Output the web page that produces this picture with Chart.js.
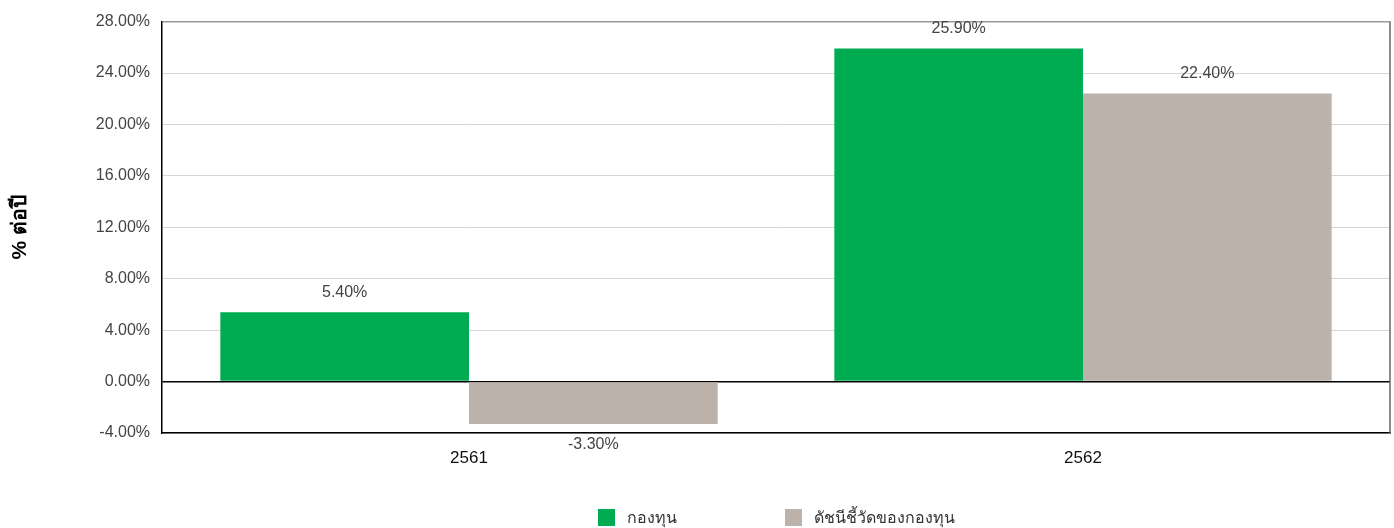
<!DOCTYPE html>
<html>
<head>
<meta charset="utf-8">
<script src="https://cdn.jsdelivr.net/npm/chart.js@4.4.1/dist/chart.umd.min.js"></script>
<style>
  html, body { margin: 0; padding: 0; background: #fff; }
  #wrap { position: relative; width: 1394px; height: 528px; }
  #legend {
    position: absolute; left: 162px; top: 505px; width: 1228px;
    display: flex; justify-content: center; gap: 108px;
    font-family: "Liberation Sans", "Noto Sans", sans-serif; font-size: 16px; color: #333;
  }
  .item { display: flex; align-items: center; }
  .box { width: 17px; height: 17px; margin-right: 12px; }
</style>
</head>
<body>
<div id="wrap">
  <canvas id="chart" width="1394" height="528"></canvas>
  <div id="legend"></div>
</div>
<script>
// ข้อมูลผลตอบแทน (% ต่อปี)
const years = ["2561", "2562"];
const fundValues = [5.4, 25.9];
const benchmarkValues = [-3.3, 22.4];
const seriesNames = ["กองทุน", "ดัชนีชี้วัดของกองทุน"];
const seriesColors = ["#00ac52", "#bcb2ac"];
const axisTitle = "% ต่อปี";

const FONT = '"Liberation Sans", "Noto Sans", sans-serif';

// ป้ายค่าบนแท่ง
const valueLabels = {
  id: "valueLabels",
  afterDatasetsDraw(chart) {
    const ctx = chart.ctx;
    ctx.save();
    ctx.font = "16px " + FONT;
    ctx.fillStyle = "#444";
    ctx.textAlign = "center";
    ctx.textBaseline = "middle";
    chart.data.datasets.forEach((ds, i) => {
      chart.getDatasetMeta(i).data.forEach((bar, j) => {
        const v = ds.data[j];
        const y = v >= 0 ? bar.y - 20 : bar.y + 21;
        ctx.fillText(v.toFixed(2) + "%", bar.x, y);
      });
    });
    ctx.restore();
  }
};

// กรอบด้านขวา
const rightBorder = {
  id: "rightBorder",
  afterDraw(chart) {
    const a = chart.chartArea;
    const ctx = chart.ctx;
    ctx.save();
    ctx.strokeStyle = "#666";
    ctx.lineWidth = 1.5;
    ctx.beginPath();
    ctx.moveTo(a.right, a.top);
    ctx.lineTo(a.right, a.bottom);
    ctx.stroke();
    ctx.restore();
  }
};

const chart = new Chart(document.getElementById("chart"), {
  type: "bar",
  data: {
    labels: years,
    datasets: [
      { label: seriesNames[0], data: fundValues, backgroundColor: seriesColors[0] },
      { label: seriesNames[1], data: benchmarkValues, backgroundColor: seriesColors[1] }
    ]
  },
  options: {
    responsive: false,
    animation: false,
    layout: { padding: { top: 19, right: 4, bottom: 0, left: 0 } },
    datasets: { bar: { categoryPercentage: 0.81, barPercentage: 1.0 } },
    plugins: {
      legend: { display: false },
      tooltip: { enabled: false }
    },
    scales: {
      x: {
        grid: { display: false, drawTicks: false },
        border: { color: "#000", width: 1.5 },
        ticks: { color: "#111", font: { family: FONT, size: 17 }, padding: 15 },
        afterFit(scale) { scale.height = 95; }
      },
      y: {
        min: -4,
        max: 28,
        ticks: {
          stepSize: 4,
          color: "#444",
          font: { family: FONT, size: 16 },
          padding: 12,
          callback: v => v.toFixed(2) + "%"
        },
        grid: {
          drawTicks: false,
          color: c => c.tick.value === 0 ? "#000" : (c.tick.value === 28 ? "#999" : "#d6d6d6"),
          lineWidth: c => (c.tick.value === 0 || c.tick.value === 28) ? 1.5 : 1
        },
        border: { color: "#000", width: 1.5 },
        title: {
          display: true,
          text: axisTitle,
          color: "#000",
          font: { family: FONT, size: 21, weight: "bold" },
          padding: { top: 8, bottom: 0 }
        },
        afterFit(scale) { scale.width = 162; }
      }
    }
  },
  plugins: [valueLabels, rightBorder]
});

// คำอธิบายสัญลักษณ์
const legend = document.getElementById("legend");
seriesNames.forEach((name, i) => {
  const item = document.createElement("div");
  item.className = "item";
  const box = document.createElement("span");
  box.className = "box";
  box.style.background = seriesColors[i];
  const txt = document.createElement("span");
  txt.textContent = name;
  item.appendChild(box);
  item.appendChild(txt);
  legend.appendChild(item);
});
</script>
</body>
</html>
